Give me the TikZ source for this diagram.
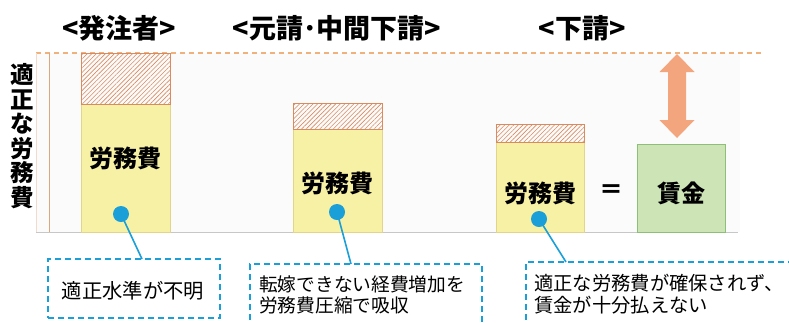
\documentclass[tikz,border=0pt]{standalone}
\usepackage{fontspec}
\setmainfont{Noto Sans CJK JP}
\usetikzlibrary{patterns.meta}
\definecolor{barY}{HTML}{F7F1A6}
\definecolor{barYb}{HTML}{E3D48C}
\definecolor{hatchC}{HTML}{D98A5E}
\definecolor{grnF}{HTML}{CDE5B6}
\definecolor{grnB}{HTML}{8DBF78}
\definecolor{blu}{HTML}{1A9FD9}
\definecolor{orgD}{HTML}{F0B27A}
\definecolor{arrC}{HTML}{F3A57D}
\definecolor{axisC}{HTML}{DDA67C}
\tikzset{
  ybar/.style={draw=barYb, line width=0.8pt, fill=barY, inner sep=0pt, minimum width=89},
  hbar/.style={draw=hatchC, line width=0.8pt, fill=white, inner sep=0pt, minimum width=89,
    pattern={Lines[angle=45,distance=3.2pt,line width=0.6pt]}, pattern color=hatchC},
  gbox/.style={draw=grnB, line width=0.8pt, fill=grnF, inner sep=0pt, minimum width=88, minimum height=88},
  dot/.style={circle, fill=blu, inner sep=0pt, minimum size=16},
  conn/.style={draw=blu, line width=1.6pt},
  callout/.style={draw=blu, line width=1.6pt, dash pattern=on 6pt off 4pt, inner sep=0pt},
  ttl/.style={font=\fontsize{27}{29}\selectfont\bfseries, inner sep=0pt},
  lbl/.style={font=\fontsize{24}{26}\selectfont\bfseries, inner sep=0pt},
  ctext/.style={inner sep=0pt, align=left, anchor=west},
}
\begin{document}
\begin{tikzpicture}[x=1pt,y=-1pt]
\useasboundingbox (0,0) rectangle (789,322);
% background panel and axes
\fill[black!1.5] (36,53) rectangle (740,232);
\coordinate (topL) at (36,53);
\coordinate (topR) at (762,53);
\draw[orgD, line width=1.5pt, dash pattern=on 5pt off 4pt] (topL) -- (topR);
\coordinate (baseL) at (36,232);
\coordinate (baseR) at (738,232);
\draw[black!22, line width=1pt] (baseL) -- (baseR);
\coordinate (pnT) at (36,53);
\coordinate (pnB) at (36,232);
\draw[axisC!40, line width=0.8pt] (pnT) -- (pnB);
\coordinate (axT) at (49,53);
\coordinate (axB) at (49,232);
\draw[axisC, line width=1pt] (axT) -- (axB);
% titles
\node[ttl] (t1) at (119,28) {<発注者>};
\node[ttl] (t2) at (337,28) {<元請･中間下請>};
\node[ttl] (t3) at (582,28) {<下請>};
% vertical axis label
\node[font=\fontsize{23.5}{24.5}\selectfont\bfseries, inner sep=0pt, align=center] (ax) at (22,136) {適\\正\\な\\労\\務\\費};
% bars
\node[ybar, minimum height=128] (b1) at (125.5,168) {};
\node[hbar, minimum height=51] (h1) at (125.5,78.5) {};
\node[ybar, minimum height=103] (b2) at (337.5,180.5) {};
\node[hbar, minimum height=26] (h2) at (337.5,116) {};
\node[ybar, minimum width=88, minimum height=90] (b3) at (540,187) {};
\node[hbar, minimum width=88, minimum height=18] (h3) at (540,133) {};
\node[gbox] (g) at (681,188) {};
% labels
\node[lbl] (l1) at (125.5,158) {労務費};
\node[lbl] (l2) at (337.5,183) {労務費};
\node[lbl] (l3) at (540,193) {労務費};
\node[lbl] (eq) at (611,192) {＝};
\node[lbl] (l4) at (681,193) {賃金};
% double arrow
\coordinate (arT) at (677,54);
\coordinate (arB) at (677,138);
\fill[arrC] (arT) -- ++(17.5,18) -- ++(-8.5,0) -- ++(0,48) -- ++(8.5,0) -- (arB)
  -- ++(-17.5,-18) -- ++(8.5,0) -- ++(0,-48) -- ++(-8.5,0) -- cycle;
% dots
\node[dot] (d1) at (121,214) {};
\node[dot] (d2) at (337,212) {};
\node[dot] (d3) at (539,219) {};
% callouts
\node[callout, minimum width=172, minimum height=59] (c1) at (134,288.5) {};
\node[callout, minimum width=232, minimum height=66] (c2) at (366,297) {};
\node[callout, minimum width=280, minimum height=68] (c3) at (666,296) {};
\coordinate (e1) at (142,259);
\coordinate (e2) at (351,264);
\coordinate (e3) at (566,262);
\draw[conn] (d1.center) -- (e1);
\draw[conn] (d2.center) -- (e2);
\draw[conn] (d3.center) -- (e3);
\node[font=\fontsize{20.3}{22}\selectfont, inner sep=0pt] (x1) at (133,291) {適正水準が不明};
\node[ctext, font=\fontsize{18.7}{21}\selectfont] (x2) at (259,295) {転嫁できない経費増加を\\労務費圧縮で吸収};
\node[ctext, font=\fontsize{19.3}{22.5}\selectfont] (x3) at (534,294) {適正な労務費が確保されず、\\賃金が十分払えない};
\end{tikzpicture}
\end{document}
